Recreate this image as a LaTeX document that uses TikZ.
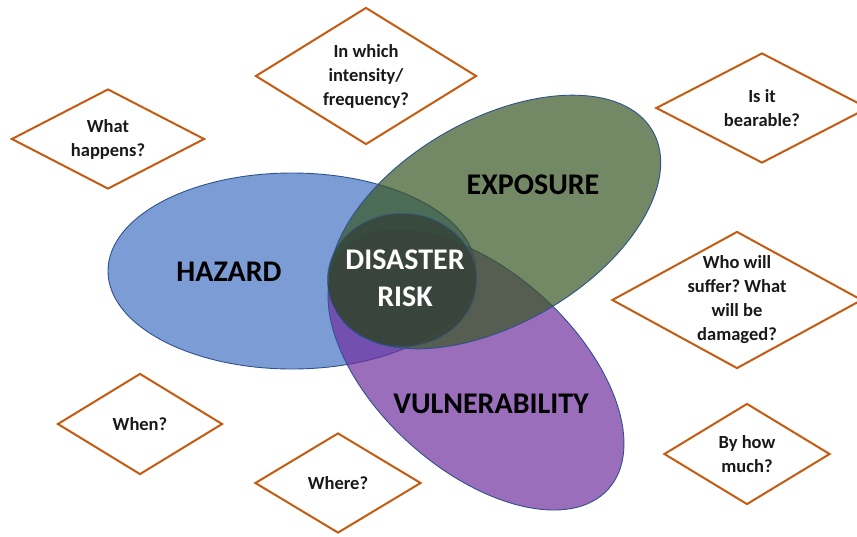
\documentclass[tikz,border=0pt]{standalone}
\usepackage{fontspec}
\setmainfont{Carlito}
\usepackage{tikz}
\usetikzlibrary{shapes.geometric}
\frenchspacing

\definecolor{hazardblue}{RGB}{68,114,196}
\definecolor{exposuregreen}{RGB}{56,87,35}
\definecolor{vulnpurple}{RGB}{112,48,160}
\definecolor{riskgray}{RGB}{50,64,54}
\definecolor{edgeblue}{RGB}{47,82,143}
\definecolor{askorange}{RGB}{197,90,17}

\tikzset{
	area/.style={ellipse, draw=edgeblue, line width=0.9pt, fill opacity=0.7, inner sep=0pt},
	arealbl/.style={font=\fontsize{30}{37}\selectfont\bfseries, align=center},
	ask/.style={diamond, draw=askorange, line width=2pt, inner sep=0pt},
	asktext/.style={font=\fontsize{18.5}{24}\selectfont\bfseries, align=center, text=black!90}
}

\begin{document}
\begin{tikzpicture}[x=1pt, y=-1pt]
	\useasboundingbox (0,0) rectangle (857,536);
	\clip (0,0) rectangle (857,536);

	% Aree
	\node[area, fill=hazardblue, minimum width=368pt, minimum height=196pt] (hazard) at (292,271) {};
	\node[area, fill=vulnpurple, minimum width=356pt, minimum height=198pt, rotate=-42] (vulner) at (476,370) {};
	\node[area, fill=exposuregreen, minimum width=364pt, minimum height=204pt, rotate=30] (exposure) at (495,222) {};
	\node[area, fill=riskgray, draw opacity=0.6, fill opacity=0.75, minimum width=149pt, minimum height=133pt] (risk) at (402,280) {};

	% Etichette delle aree
	\node[arealbl] (hazardlbl) at (229,272) {HAZARD};
	\node[arealbl] (exposurelbl) at (533,185) {EXPOSURE};
	\node[arealbl] (vulnerlbl) at (491,404) {VULNERABILITY};
	\node[arealbl, text=white] (risklbl) at (405,278) {DISASTER\\RISK};

	% Domande
	\node[ask, minimum width=193pt, minimum height=100pt] (qwhat) at (108,139) {};
	\node[asktext] (twhat) at (qwhat) {What\\happens?};

	\node[ask, minimum width=221pt, minimum height=137pt] (qintensity) at (366,76) {};
	\node[asktext] (tintensity) at (qintensity) {In which\\intensity/\\frequency?};

	\node[ask, minimum width=212pt, minimum height=110pt] (qbearable) at (762,108) {};
	\node[asktext] (tbearable) at (qbearable) {Is it\\bearable?};

	\node[ask, minimum width=250pt, minimum height=137pt] (qwho) at (737,300) {};
	\node[asktext] (twho) at (qwho) {Who will\\suffer? What\\will be\\damaged?};

	\node[ask, minimum width=166pt, minimum height=101pt] (qmuch) at (747,454) {};
	\node[asktext] (tmuch) at (qmuch) {By how\\much?};

	\node[ask, minimum width=165pt, minimum height=101pt] (qwhen) at (140,424) {};
	\node[asktext] (twhen) at (qwhen) {When?};

	\node[ask, minimum width=166pt, minimum height=100pt] (qwhere) at (338,483) {};
	\node[asktext] (twhere) at (qwhere) {Where?};
\end{tikzpicture}
\end{document}
